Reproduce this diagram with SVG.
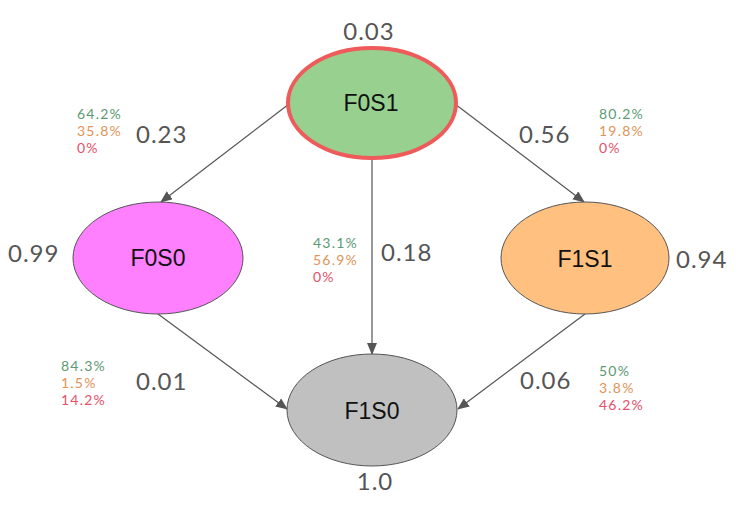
<svg xmlns="http://www.w3.org/2000/svg" width="739" height="506" viewBox="0 0 739 506">
<style>
.node{stroke:#555;stroke-width:1}
.nl{font-family:"Liberation Sans",Arial,sans-serif;font-size:23px;fill:#111;text-anchor:middle}
.num{font-family:Lato,"Open Sans",sans-serif;font-size:24px;letter-spacing:1px;fill:#555}
.p{font-family:Lato,"Open Sans",sans-serif;font-size:14px;letter-spacing:1.2px}
.g{fill:#5b9a72}.o{fill:#e29358}.r{fill:#e5506a}
.edge{stroke:#555;stroke-width:1.2;fill:none;marker-end:url(#ah)}
</style>
<defs>
<marker id="ah" markerWidth="12" markerHeight="10" refX="11" refY="5" orient="auto" markerUnits="userSpaceOnUse">
<path d="M0,0 L12,5 L0,10 Z" fill="#555"/>
</marker>
</defs>
<rect width="739" height="506" fill="#fff"/>
<g id="edges">
<line class="edge" x1="289" y1="104" x2="161" y2="202"/>
<line class="edge" x1="455" y1="104" x2="584" y2="202"/>
<line class="edge" x1="372" y1="158" x2="372" y2="354"/>
<line class="edge" x1="158" y1="314" x2="287" y2="409"/>
<line class="edge" x1="585" y1="314" x2="458" y2="409"/>
</g>
<g id="F0S1">
<ellipse cx="372" cy="103" rx="84" ry="55" fill="#97d08f" stroke="#ef5a5a" stroke-width="4"/>
<text class="nl" x="371" y="111">F0S1</text>
<text class="num" x="369" y="40" text-anchor="middle">0.03</text>
</g>
<g id="F0S0">
<ellipse class="node" cx="158" cy="258" rx="85" ry="56" fill="#ff80ff"/>
<text class="nl" x="158" y="266">F0S0</text>
<text class="num" x="8" y="262">0.99</text>
</g>
<g id="F1S1">
<ellipse class="node" cx="585" cy="258" rx="84" ry="56" fill="#ffc080"/>
<text class="nl" x="585" y="267">F1S1</text>
<text class="num" x="676" y="268">0.94</text>
</g>
<g id="F1S0">
<ellipse class="node" cx="372" cy="410" rx="85" ry="56" fill="#c0c0c0"/>
<text class="nl" x="372" y="419">F1S0</text>
<text class="num" x="375" y="490" text-anchor="middle">1.0</text>
</g>
<g id="labels">
<text class="num" x="136" y="143">0.23</text>
<text class="p g" x="77" y="119">64.2%</text>
<text class="p o" x="77" y="136">35.8%</text>
<text class="p r" x="77" y="153">0%</text>
<text class="num" x="519" y="143">0.56</text>
<text class="p g" x="599" y="119">80.2%</text>
<text class="p o" x="599" y="136">19.8%</text>
<text class="p r" x="599" y="153">0%</text>
<text class="num" x="381" y="261">0.18</text>
<text class="p g" x="313" y="248">43.1%</text>
<text class="p o" x="313" y="265">56.9%</text>
<text class="p r" x="313" y="282">0%</text>
<text class="num" x="136" y="390">0.01</text>
<text class="p g" x="61" y="371">84.3%</text>
<text class="p o" x="61" y="388">1.5%</text>
<text class="p r" x="61" y="405">14.2%</text>
<text class="num" x="520" y="389">0.06</text>
<text class="p g" x="599" y="376">50%</text>
<text class="p o" x="599" y="393">3.8%</text>
<text class="p r" x="599" y="410">46.2%</text>
</g>
</svg>
